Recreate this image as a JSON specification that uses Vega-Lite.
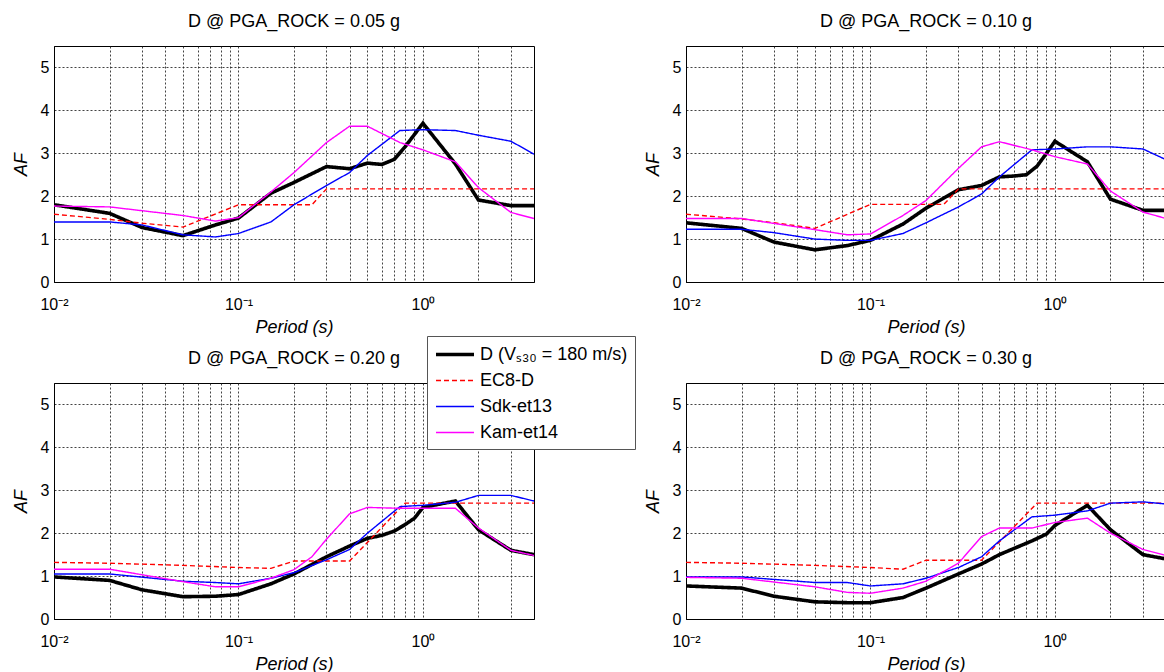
{
  "$schema": "https://vega.github.io/schema/vega-lite/v6.json",
  "background": "white",
  "padding": {"left": 11, "top": 12, "right": 0, "bottom": 0},
  "datasets": {
    "af": [
      {"panel": "0.05", "series": "D", "T": 0.01, "AF": 1.80},
      {"panel": "0.05", "series": "D", "T": 0.02, "AF": 1.60},
      {"panel": "0.05", "series": "D", "T": 0.03, "AF": 1.27},
      {"panel": "0.05", "series": "D", "T": 0.05, "AF": 1.08},
      {"panel": "0.05", "series": "D", "T": 0.075, "AF": 1.33},
      {"panel": "0.05", "series": "D", "T": 0.1, "AF": 1.49},
      {"panel": "0.05", "series": "D", "T": 0.15, "AF": 2.07},
      {"panel": "0.05", "series": "D", "T": 0.2, "AF": 2.32},
      {"panel": "0.05", "series": "D", "T": 0.3, "AF": 2.69},
      {"panel": "0.05", "series": "D", "T": 0.4, "AF": 2.64},
      {"panel": "0.05", "series": "D", "T": 0.5, "AF": 2.77},
      {"panel": "0.05", "series": "D", "T": 0.6, "AF": 2.74},
      {"panel": "0.05", "series": "D", "T": 0.7, "AF": 2.86},
      {"panel": "0.05", "series": "D", "T": 0.8, "AF": 3.15},
      {"panel": "0.05", "series": "D", "T": 1.0, "AF": 3.70},
      {"panel": "0.05", "series": "D", "T": 1.5, "AF": 2.75},
      {"panel": "0.05", "series": "D", "T": 2.0, "AF": 1.91},
      {"panel": "0.05", "series": "D", "T": 3.0, "AF": 1.78},
      {"panel": "0.05", "series": "D", "T": 4.0, "AF": 1.78},
      {"panel": "0.05", "series": "EC8-D", "T": 0.01, "AF": 1.58},
      {"panel": "0.05", "series": "EC8-D", "T": 0.02, "AF": 1.46},
      {"panel": "0.05", "series": "EC8-D", "T": 0.03, "AF": 1.37},
      {"panel": "0.05", "series": "EC8-D", "T": 0.05, "AF": 1.28},
      {"panel": "0.05", "series": "EC8-D", "T": 0.1, "AF": 1.80},
      {"panel": "0.05", "series": "EC8-D", "T": 0.25, "AF": 1.80},
      {"panel": "0.05", "series": "EC8-D", "T": 0.3, "AF": 2.17},
      {"panel": "0.05", "series": "EC8-D", "T": 4.0, "AF": 2.17},
      {"panel": "0.05", "series": "Sdk-et13", "T": 0.01, "AF": 1.40},
      {"panel": "0.05", "series": "Sdk-et13", "T": 0.02, "AF": 1.40},
      {"panel": "0.05", "series": "Sdk-et13", "T": 0.03, "AF": 1.33},
      {"panel": "0.05", "series": "Sdk-et13", "T": 0.05, "AF": 1.10},
      {"panel": "0.05", "series": "Sdk-et13", "T": 0.075, "AF": 1.05},
      {"panel": "0.05", "series": "Sdk-et13", "T": 0.1, "AF": 1.13},
      {"panel": "0.05", "series": "Sdk-et13", "T": 0.15, "AF": 1.40},
      {"panel": "0.05", "series": "Sdk-et13", "T": 0.2, "AF": 1.80},
      {"panel": "0.05", "series": "Sdk-et13", "T": 0.3, "AF": 2.25},
      {"panel": "0.05", "series": "Sdk-et13", "T": 0.4, "AF": 2.55},
      {"panel": "0.05", "series": "Sdk-et13", "T": 0.5, "AF": 2.95},
      {"panel": "0.05", "series": "Sdk-et13", "T": 0.75, "AF": 3.53},
      {"panel": "0.05", "series": "Sdk-et13", "T": 1.0, "AF": 3.55},
      {"panel": "0.05", "series": "Sdk-et13", "T": 1.5, "AF": 3.53},
      {"panel": "0.05", "series": "Sdk-et13", "T": 2.0, "AF": 3.42},
      {"panel": "0.05", "series": "Sdk-et13", "T": 3.0, "AF": 3.28},
      {"panel": "0.05", "series": "Sdk-et13", "T": 4.0, "AF": 2.98},
      {"panel": "0.05", "series": "Kam-et14", "T": 0.01, "AF": 1.77},
      {"panel": "0.05", "series": "Kam-et14", "T": 0.02, "AF": 1.75},
      {"panel": "0.05", "series": "Kam-et14", "T": 0.05, "AF": 1.55},
      {"panel": "0.05", "series": "Kam-et14", "T": 0.075, "AF": 1.42},
      {"panel": "0.05", "series": "Kam-et14", "T": 0.1, "AF": 1.50},
      {"panel": "0.05", "series": "Kam-et14", "T": 0.15, "AF": 2.10},
      {"panel": "0.05", "series": "Kam-et14", "T": 0.2, "AF": 2.55},
      {"panel": "0.05", "series": "Kam-et14", "T": 0.3, "AF": 3.25},
      {"panel": "0.05", "series": "Kam-et14", "T": 0.4, "AF": 3.63},
      {"panel": "0.05", "series": "Kam-et14", "T": 0.5, "AF": 3.63},
      {"panel": "0.05", "series": "Kam-et14", "T": 0.75, "AF": 3.25},
      {"panel": "0.05", "series": "Kam-et14", "T": 1.0, "AF": 3.08},
      {"panel": "0.05", "series": "Kam-et14", "T": 1.5, "AF": 2.80},
      {"panel": "0.05", "series": "Kam-et14", "T": 2.0, "AF": 2.20},
      {"panel": "0.05", "series": "Kam-et14", "T": 3.0, "AF": 1.62},
      {"panel": "0.05", "series": "Kam-et14", "T": 4.0, "AF": 1.48},

      {"panel": "0.10", "series": "D", "T": 0.01, "AF": 1.38},
      {"panel": "0.10", "series": "D", "T": 0.02, "AF": 1.25},
      {"panel": "0.10", "series": "D", "T": 0.03, "AF": 0.93},
      {"panel": "0.10", "series": "D", "T": 0.05, "AF": 0.75},
      {"panel": "0.10", "series": "D", "T": 0.075, "AF": 0.85},
      {"panel": "0.10", "series": "D", "T": 0.1, "AF": 0.97},
      {"panel": "0.10", "series": "D", "T": 0.15, "AF": 1.35},
      {"panel": "0.10", "series": "D", "T": 0.2, "AF": 1.72},
      {"panel": "0.10", "series": "D", "T": 0.3, "AF": 2.15},
      {"panel": "0.10", "series": "D", "T": 0.4, "AF": 2.25},
      {"panel": "0.10", "series": "D", "T": 0.5, "AF": 2.45},
      {"panel": "0.10", "series": "D", "T": 0.6, "AF": 2.47},
      {"panel": "0.10", "series": "D", "T": 0.7, "AF": 2.50},
      {"panel": "0.10", "series": "D", "T": 0.8, "AF": 2.70},
      {"panel": "0.10", "series": "D", "T": 0.9, "AF": 3.00},
      {"panel": "0.10", "series": "D", "T": 1.0, "AF": 3.28},
      {"panel": "0.10", "series": "D", "T": 1.5, "AF": 2.80},
      {"panel": "0.10", "series": "D", "T": 2.0, "AF": 1.93},
      {"panel": "0.10", "series": "D", "T": 3.0, "AF": 1.67},
      {"panel": "0.10", "series": "D", "T": 4.0, "AF": 1.67},
      {"panel": "0.10", "series": "EC8-D", "T": 0.01, "AF": 1.58},
      {"panel": "0.10", "series": "EC8-D", "T": 0.02, "AF": 1.47},
      {"panel": "0.10", "series": "EC8-D", "T": 0.03, "AF": 1.38},
      {"panel": "0.10", "series": "EC8-D", "T": 0.05, "AF": 1.25},
      {"panel": "0.10", "series": "EC8-D", "T": 0.1, "AF": 1.81},
      {"panel": "0.10", "series": "EC8-D", "T": 0.25, "AF": 1.81},
      {"panel": "0.10", "series": "EC8-D", "T": 0.3, "AF": 2.17},
      {"panel": "0.10", "series": "EC8-D", "T": 4.0, "AF": 2.17},
      {"panel": "0.10", "series": "Sdk-et13", "T": 0.01, "AF": 1.23},
      {"panel": "0.10", "series": "Sdk-et13", "T": 0.02, "AF": 1.23},
      {"panel": "0.10", "series": "Sdk-et13", "T": 0.03, "AF": 1.15},
      {"panel": "0.10", "series": "Sdk-et13", "T": 0.05, "AF": 1.00},
      {"panel": "0.10", "series": "Sdk-et13", "T": 0.075, "AF": 0.97},
      {"panel": "0.10", "series": "Sdk-et13", "T": 0.1, "AF": 0.97},
      {"panel": "0.10", "series": "Sdk-et13", "T": 0.15, "AF": 1.13},
      {"panel": "0.10", "series": "Sdk-et13", "T": 0.2, "AF": 1.38},
      {"panel": "0.10", "series": "Sdk-et13", "T": 0.3, "AF": 1.75},
      {"panel": "0.10", "series": "Sdk-et13", "T": 0.4, "AF": 2.05},
      {"panel": "0.10", "series": "Sdk-et13", "T": 0.5, "AF": 2.45},
      {"panel": "0.10", "series": "Sdk-et13", "T": 0.75, "AF": 3.08},
      {"panel": "0.10", "series": "Sdk-et13", "T": 1.0, "AF": 3.10},
      {"panel": "0.10", "series": "Sdk-et13", "T": 1.5, "AF": 3.15},
      {"panel": "0.10", "series": "Sdk-et13", "T": 2.0, "AF": 3.15},
      {"panel": "0.10", "series": "Sdk-et13", "T": 3.0, "AF": 3.10},
      {"panel": "0.10", "series": "Sdk-et13", "T": 4.0, "AF": 2.85},
      {"panel": "0.10", "series": "Kam-et14", "T": 0.01, "AF": 1.48},
      {"panel": "0.10", "series": "Kam-et14", "T": 0.02, "AF": 1.48},
      {"panel": "0.10", "series": "Kam-et14", "T": 0.05, "AF": 1.22},
      {"panel": "0.10", "series": "Kam-et14", "T": 0.075, "AF": 1.10},
      {"panel": "0.10", "series": "Kam-et14", "T": 0.1, "AF": 1.12},
      {"panel": "0.10", "series": "Kam-et14", "T": 0.15, "AF": 1.55},
      {"panel": "0.10", "series": "Kam-et14", "T": 0.2, "AF": 1.90},
      {"panel": "0.10", "series": "Kam-et14", "T": 0.3, "AF": 2.65},
      {"panel": "0.10", "series": "Kam-et14", "T": 0.4, "AF": 3.15},
      {"panel": "0.10", "series": "Kam-et14", "T": 0.5, "AF": 3.27},
      {"panel": "0.10", "series": "Kam-et14", "T": 0.75, "AF": 3.08},
      {"panel": "0.10", "series": "Kam-et14", "T": 1.0, "AF": 2.92},
      {"panel": "0.10", "series": "Kam-et14", "T": 1.5, "AF": 2.75},
      {"panel": "0.10", "series": "Kam-et14", "T": 2.0, "AF": 2.12},
      {"panel": "0.10", "series": "Kam-et14", "T": 3.0, "AF": 1.63},
      {"panel": "0.10", "series": "Kam-et14", "T": 4.0, "AF": 1.48},

      {"panel": "0.20", "series": "D", "T": 0.01, "AF": 0.98},
      {"panel": "0.20", "series": "D", "T": 0.02, "AF": 0.90},
      {"panel": "0.20", "series": "D", "T": 0.03, "AF": 0.68},
      {"panel": "0.20", "series": "D", "T": 0.05, "AF": 0.52},
      {"panel": "0.20", "series": "D", "T": 0.075, "AF": 0.53},
      {"panel": "0.20", "series": "D", "T": 0.1, "AF": 0.57},
      {"panel": "0.20", "series": "D", "T": 0.15, "AF": 0.82},
      {"panel": "0.20", "series": "D", "T": 0.2, "AF": 1.05},
      {"panel": "0.20", "series": "D", "T": 0.3, "AF": 1.45},
      {"panel": "0.20", "series": "D", "T": 0.4, "AF": 1.70},
      {"panel": "0.20", "series": "D", "T": 0.5, "AF": 1.88},
      {"panel": "0.20", "series": "D", "T": 0.6, "AF": 1.95},
      {"panel": "0.20", "series": "D", "T": 0.7, "AF": 2.05},
      {"panel": "0.20", "series": "D", "T": 0.8, "AF": 2.20},
      {"panel": "0.20", "series": "D", "T": 0.9, "AF": 2.35},
      {"panel": "0.20", "series": "D", "T": 1.0, "AF": 2.60},
      {"panel": "0.20", "series": "D", "T": 1.5, "AF": 2.75},
      {"panel": "0.20", "series": "D", "T": 2.0, "AF": 2.08},
      {"panel": "0.20", "series": "D", "T": 3.0, "AF": 1.60},
      {"panel": "0.20", "series": "D", "T": 4.0, "AF": 1.50},
      {"panel": "0.20", "series": "EC8-D", "T": 0.01, "AF": 1.32},
      {"panel": "0.20", "series": "EC8-D", "T": 0.02, "AF": 1.30},
      {"panel": "0.20", "series": "EC8-D", "T": 0.05, "AF": 1.25},
      {"panel": "0.20", "series": "EC8-D", "T": 0.1, "AF": 1.20},
      {"panel": "0.20", "series": "EC8-D", "T": 0.15, "AF": 1.18},
      {"panel": "0.20", "series": "EC8-D", "T": 0.2, "AF": 1.35},
      {"panel": "0.20", "series": "EC8-D", "T": 0.4, "AF": 1.35},
      {"panel": "0.20", "series": "EC8-D", "T": 0.8, "AF": 2.70},
      {"panel": "0.20", "series": "EC8-D", "T": 4.0, "AF": 2.70},
      {"panel": "0.20", "series": "Sdk-et13", "T": 0.01, "AF": 1.05},
      {"panel": "0.20", "series": "Sdk-et13", "T": 0.02, "AF": 1.05},
      {"panel": "0.20", "series": "Sdk-et13", "T": 0.05, "AF": 0.88},
      {"panel": "0.20", "series": "Sdk-et13", "T": 0.075, "AF": 0.85},
      {"panel": "0.20", "series": "Sdk-et13", "T": 0.1, "AF": 0.82},
      {"panel": "0.20", "series": "Sdk-et13", "T": 0.15, "AF": 0.95},
      {"panel": "0.20", "series": "Sdk-et13", "T": 0.2, "AF": 1.08},
      {"panel": "0.20", "series": "Sdk-et13", "T": 0.3, "AF": 1.38},
      {"panel": "0.20", "series": "Sdk-et13", "T": 0.4, "AF": 1.62},
      {"panel": "0.20", "series": "Sdk-et13", "T": 0.5, "AF": 2.00},
      {"panel": "0.20", "series": "Sdk-et13", "T": 0.75, "AF": 2.62},
      {"panel": "0.20", "series": "Sdk-et13", "T": 1.0, "AF": 2.65},
      {"panel": "0.20", "series": "Sdk-et13", "T": 1.5, "AF": 2.72},
      {"panel": "0.20", "series": "Sdk-et13", "T": 2.0, "AF": 2.88},
      {"panel": "0.20", "series": "Sdk-et13", "T": 3.0, "AF": 2.88},
      {"panel": "0.20", "series": "Sdk-et13", "T": 4.0, "AF": 2.75},
      {"panel": "0.20", "series": "Kam-et14", "T": 0.01, "AF": 1.16},
      {"panel": "0.20", "series": "Kam-et14", "T": 0.02, "AF": 1.16},
      {"panel": "0.20", "series": "Kam-et14", "T": 0.05, "AF": 0.87},
      {"panel": "0.20", "series": "Kam-et14", "T": 0.075, "AF": 0.75},
      {"panel": "0.20", "series": "Kam-et14", "T": 0.1, "AF": 0.75},
      {"panel": "0.20", "series": "Kam-et14", "T": 0.15, "AF": 0.95},
      {"panel": "0.20", "series": "Kam-et14", "T": 0.2, "AF": 1.15},
      {"panel": "0.20", "series": "Kam-et14", "T": 0.25, "AF": 1.45},
      {"panel": "0.20", "series": "Kam-et14", "T": 0.3, "AF": 1.86},
      {"panel": "0.20", "series": "Kam-et14", "T": 0.4, "AF": 2.45},
      {"panel": "0.20", "series": "Kam-et14", "T": 0.5, "AF": 2.60},
      {"panel": "0.20", "series": "Kam-et14", "T": 0.75, "AF": 2.58},
      {"panel": "0.20", "series": "Kam-et14", "T": 1.0, "AF": 2.58},
      {"panel": "0.20", "series": "Kam-et14", "T": 1.5, "AF": 2.58},
      {"panel": "0.20", "series": "Kam-et14", "T": 2.0, "AF": 2.12},
      {"panel": "0.20", "series": "Kam-et14", "T": 3.0, "AF": 1.60},
      {"panel": "0.20", "series": "Kam-et14", "T": 4.0, "AF": 1.48},

      {"panel": "0.30", "series": "D", "T": 0.01, "AF": 0.77},
      {"panel": "0.30", "series": "D", "T": 0.02, "AF": 0.72},
      {"panel": "0.30", "series": "D", "T": 0.03, "AF": 0.53},
      {"panel": "0.30", "series": "D", "T": 0.05, "AF": 0.40},
      {"panel": "0.30", "series": "D", "T": 0.075, "AF": 0.38},
      {"panel": "0.30", "series": "D", "T": 0.1, "AF": 0.38},
      {"panel": "0.30", "series": "D", "T": 0.15, "AF": 0.50},
      {"panel": "0.30", "series": "D", "T": 0.2, "AF": 0.72},
      {"panel": "0.30", "series": "D", "T": 0.3, "AF": 1.05},
      {"panel": "0.30", "series": "D", "T": 0.4, "AF": 1.28},
      {"panel": "0.30", "series": "D", "T": 0.5, "AF": 1.50},
      {"panel": "0.30", "series": "D", "T": 0.75, "AF": 1.82},
      {"panel": "0.30", "series": "D", "T": 0.9, "AF": 1.98},
      {"panel": "0.30", "series": "D", "T": 1.0, "AF": 2.18},
      {"panel": "0.30", "series": "D", "T": 1.5, "AF": 2.65},
      {"panel": "0.30", "series": "D", "T": 2.0, "AF": 2.08},
      {"panel": "0.30", "series": "D", "T": 3.0, "AF": 1.50},
      {"panel": "0.30", "series": "D", "T": 4.0, "AF": 1.40},
      {"panel": "0.30", "series": "EC8-D", "T": 0.01, "AF": 1.32},
      {"panel": "0.30", "series": "EC8-D", "T": 0.02, "AF": 1.30},
      {"panel": "0.30", "series": "EC8-D", "T": 0.05, "AF": 1.25},
      {"panel": "0.30", "series": "EC8-D", "T": 0.1, "AF": 1.20},
      {"panel": "0.30", "series": "EC8-D", "T": 0.15, "AF": 1.16},
      {"panel": "0.30", "series": "EC8-D", "T": 0.2, "AF": 1.37},
      {"panel": "0.30", "series": "EC8-D", "T": 0.4, "AF": 1.37},
      {"panel": "0.30", "series": "EC8-D", "T": 0.8, "AF": 2.70},
      {"panel": "0.30", "series": "EC8-D", "T": 4.0, "AF": 2.70},
      {"panel": "0.30", "series": "Sdk-et13", "T": 0.01, "AF": 0.98},
      {"panel": "0.30", "series": "Sdk-et13", "T": 0.02, "AF": 0.98},
      {"panel": "0.30", "series": "Sdk-et13", "T": 0.05, "AF": 0.85},
      {"panel": "0.30", "series": "Sdk-et13", "T": 0.075, "AF": 0.85},
      {"panel": "0.30", "series": "Sdk-et13", "T": 0.1, "AF": 0.77},
      {"panel": "0.30", "series": "Sdk-et13", "T": 0.15, "AF": 0.82},
      {"panel": "0.30", "series": "Sdk-et13", "T": 0.2, "AF": 0.95},
      {"panel": "0.30", "series": "Sdk-et13", "T": 0.3, "AF": 1.20},
      {"panel": "0.30", "series": "Sdk-et13", "T": 0.4, "AF": 1.45},
      {"panel": "0.30", "series": "Sdk-et13", "T": 0.5, "AF": 1.82},
      {"panel": "0.30", "series": "Sdk-et13", "T": 0.75, "AF": 2.38},
      {"panel": "0.30", "series": "Sdk-et13", "T": 1.0, "AF": 2.42},
      {"panel": "0.30", "series": "Sdk-et13", "T": 1.5, "AF": 2.52},
      {"panel": "0.30", "series": "Sdk-et13", "T": 2.0, "AF": 2.70},
      {"panel": "0.30", "series": "Sdk-et13", "T": 3.0, "AF": 2.73},
      {"panel": "0.30", "series": "Sdk-et13", "T": 4.0, "AF": 2.68},
      {"panel": "0.30", "series": "Kam-et14", "T": 0.01, "AF": 0.97},
      {"panel": "0.30", "series": "Kam-et14", "T": 0.02, "AF": 0.95},
      {"panel": "0.30", "series": "Kam-et14", "T": 0.05, "AF": 0.75},
      {"panel": "0.30", "series": "Kam-et14", "T": 0.075, "AF": 0.62},
      {"panel": "0.30", "series": "Kam-et14", "T": 0.1, "AF": 0.60},
      {"panel": "0.30", "series": "Kam-et14", "T": 0.15, "AF": 0.72},
      {"panel": "0.30", "series": "Kam-et14", "T": 0.2, "AF": 0.88},
      {"panel": "0.30", "series": "Kam-et14", "T": 0.3, "AF": 1.30},
      {"panel": "0.30", "series": "Kam-et14", "T": 0.4, "AF": 1.92},
      {"panel": "0.30", "series": "Kam-et14", "T": 0.5, "AF": 2.12},
      {"panel": "0.30", "series": "Kam-et14", "T": 0.75, "AF": 2.12},
      {"panel": "0.30", "series": "Kam-et14", "T": 1.0, "AF": 2.25},
      {"panel": "0.30", "series": "Kam-et14", "T": 1.5, "AF": 2.35},
      {"panel": "0.30", "series": "Kam-et14", "T": 2.0, "AF": 2.00},
      {"panel": "0.30", "series": "Kam-et14", "T": 3.0, "AF": 1.62},
      {"panel": "0.30", "series": "Kam-et14", "T": 4.0, "AF": 1.48}
    ]
  },
  "vconcat": [
    {
      "hconcat": [
        {
          "width": 480, "height": 236,
          "title": "D @ PGA_ROCK = 0.05 g",
          "data": {"name": "af"},
          "transform": [{"filter": "datum.panel == '0.05'"}],
          "mark": {"type": "line", "clip": true},
          "encoding": {
            "x": {"field": "T", "type": "quantitative", "title": "Period  (s)",
              "scale": {"type": "log", "domain": [0.01, 4], "nice": false},
              "axis": {"values": [0.01,0.02,0.03,0.04,0.05,0.06,0.07,0.08,0.09,0.1,0.2,0.3,0.4,0.5,0.6,0.7,0.8,0.9,1,2,3],
                "labelExpr": "abs(datum.value-0.01)<1e-6 ? '10⁻²' : abs(datum.value-0.1)<1e-6 ? '10⁻¹' : abs(datum.value-1)<1e-6 ? '10⁰' : ''"}},
            "y": {"field": "AF", "type": "quantitative", "title": "AF",
              "scale": {"domain": [0, 5.5], "nice": false},
              "axis": {"values": [0,1,2,3,4,5]}},
            "color": {"field": "series", "type": "nominal", "title": null,
              "scale": {"domain": ["D","EC8-D","Sdk-et13","Kam-et14"], "range": ["#000000","#ff0000","#0000ff","#ff00ff"]},
              "legend": {"labelExpr": "datum.label == 'D' ? 'D (Vₛ₃₀ = 180 m/s)' : datum.label"}},
            "strokeDash": {"field": "series", "type": "nominal", "title": null,
              "scale": {"domain": ["D","EC8-D","Sdk-et13","Kam-et14"], "range": [[1,0],[5,3],[1,0],[1,0]]},
              "legend": {"labelExpr": "datum.label == 'D' ? 'D (Vₛ₃₀ = 180 m/s)' : datum.label"}},
            "strokeWidth": {"field": "series", "type": "nominal", "title": null,
              "scale": {"type": "ordinal", "domain": ["D","EC8-D","Sdk-et13","Kam-et14"], "range": [3.6,1.4,1.4,1.4]},
              "legend": {"labelExpr": "datum.label == 'D' ? 'D (Vₛ₃₀ = 180 m/s)' : datum.label"}}
          }
        },
        {
          "width": 480, "height": 236,
          "title": "D @ PGA_ROCK = 0.10 g",
          "data": {"name": "af"},
          "transform": [{"filter": "datum.panel == '0.10'"}],
          "mark": {"type": "line", "clip": true},
          "encoding": {
            "x": {"field": "T", "type": "quantitative", "title": "Period  (s)",
              "scale": {"type": "log", "domain": [0.01, 4], "nice": false},
              "axis": {"values": [0.01,0.02,0.03,0.04,0.05,0.06,0.07,0.08,0.09,0.1,0.2,0.3,0.4,0.5,0.6,0.7,0.8,0.9,1,2,3],
                "labelExpr": "abs(datum.value-0.01)<1e-6 ? '10⁻²' : abs(datum.value-0.1)<1e-6 ? '10⁻¹' : abs(datum.value-1)<1e-6 ? '10⁰' : ''"}},
            "y": {"field": "AF", "type": "quantitative", "title": "AF",
              "scale": {"domain": [0, 5.5], "nice": false},
              "axis": {"values": [0,1,2,3,4,5]}},
            "color": {"field": "series", "type": "nominal", "title": null,
              "scale": {"domain": ["D","EC8-D","Sdk-et13","Kam-et14"], "range": ["#000000","#ff0000","#0000ff","#ff00ff"]}},
            "strokeDash": {"field": "series", "type": "nominal", "title": null,
              "scale": {"domain": ["D","EC8-D","Sdk-et13","Kam-et14"], "range": [[1,0],[5,3],[1,0],[1,0]]}},
            "strokeWidth": {"field": "series", "type": "nominal", "title": null,
              "scale": {"type": "ordinal", "domain": ["D","EC8-D","Sdk-et13","Kam-et14"], "range": [3.6,1.4,1.4,1.4]}}
          }
        }
      ]
    },
    {
      "hconcat": [
        {
          "width": 480, "height": 236,
          "title": "D @ PGA_ROCK = 0.20 g",
          "data": {"name": "af"},
          "transform": [{"filter": "datum.panel == '0.20'"}],
          "mark": {"type": "line", "clip": true},
          "encoding": {
            "x": {"field": "T", "type": "quantitative", "title": "Period  (s)",
              "scale": {"type": "log", "domain": [0.01, 4], "nice": false},
              "axis": {"values": [0.01,0.02,0.03,0.04,0.05,0.06,0.07,0.08,0.09,0.1,0.2,0.3,0.4,0.5,0.6,0.7,0.8,0.9,1,2,3],
                "labelExpr": "abs(datum.value-0.01)<1e-6 ? '10⁻²' : abs(datum.value-0.1)<1e-6 ? '10⁻¹' : abs(datum.value-1)<1e-6 ? '10⁰' : ''"}},
            "y": {"field": "AF", "type": "quantitative", "title": "AF",
              "scale": {"domain": [0, 5.5], "nice": false},
              "axis": {"values": [0,1,2,3,4,5]}},
            "color": {"field": "series", "type": "nominal", "title": null,
              "scale": {"domain": ["D","EC8-D","Sdk-et13","Kam-et14"], "range": ["#000000","#ff0000","#0000ff","#ff00ff"]}},
            "strokeDash": {"field": "series", "type": "nominal", "title": null,
              "scale": {"domain": ["D","EC8-D","Sdk-et13","Kam-et14"], "range": [[1,0],[5,3],[1,0],[1,0]]}},
            "strokeWidth": {"field": "series", "type": "nominal", "title": null,
              "scale": {"type": "ordinal", "domain": ["D","EC8-D","Sdk-et13","Kam-et14"], "range": [3.6,1.4,1.4,1.4]}}
          }
        },
        {
          "width": 480, "height": 236,
          "title": "D @ PGA_ROCK = 0.30 g",
          "data": {"name": "af"},
          "transform": [{"filter": "datum.panel == '0.30'"}],
          "mark": {"type": "line", "clip": true},
          "encoding": {
            "x": {"field": "T", "type": "quantitative", "title": "Period  (s)",
              "scale": {"type": "log", "domain": [0.01, 4], "nice": false},
              "axis": {"values": [0.01,0.02,0.03,0.04,0.05,0.06,0.07,0.08,0.09,0.1,0.2,0.3,0.4,0.5,0.6,0.7,0.8,0.9,1,2,3],
                "labelExpr": "abs(datum.value-0.01)<1e-6 ? '10⁻²' : abs(datum.value-0.1)<1e-6 ? '10⁻¹' : abs(datum.value-1)<1e-6 ? '10⁰' : ''"}},
            "y": {"field": "AF", "type": "quantitative", "title": "AF",
              "scale": {"domain": [0, 5.5], "nice": false},
              "axis": {"values": [0,1,2,3,4,5]}},
            "color": {"field": "series", "type": "nominal", "title": null,
              "scale": {"domain": ["D","EC8-D","Sdk-et13","Kam-et14"], "range": ["#000000","#ff0000","#0000ff","#ff00ff"]}},
            "strokeDash": {"field": "series", "type": "nominal", "title": null,
              "scale": {"domain": ["D","EC8-D","Sdk-et13","Kam-et14"], "range": [[1,0],[5,3],[1,0],[1,0]]}},
            "strokeWidth": {"field": "series", "type": "nominal", "title": null,
              "scale": {"type": "ordinal", "domain": ["D","EC8-D","Sdk-et13","Kam-et14"], "range": [3.6,1.4,1.4,1.4]}}
          }
        }
      ]
    }
  ],
  "spacing": 12,
  "config": {
    "font": "Liberation Sans",
    "concat": {"spacing": 108},
    "view": {"stroke": "#000000", "strokeWidth": 1},
    "title": {"fontSize": 18, "fontWeight": "normal", "color": "#000000", "offset": 15, "font": "Liberation Sans"},
    "axis": {
      "grid": true, "gridColor": "#222222", "gridDash": [2, 2], "gridOpacity": 0.85, "gridWidth": 1,
      "domainColor": "#000000", "ticks": false,
      "labelColor": "#000000", "labelFontSize": 16, "labelOverlap": false, "labelFlush": false, "labelPadding": 14,
      "titleColor": "#000000", "titleFontSize": 18, "titleFontWeight": "normal", "titleFontStyle": "italic", "titlePadding": 6
    },
    "axisY": {"labelPadding": 5, "titlePadding": 10},
    "legend": {
      "orient": "none", "legendX": 373, "legendY": 290,
      "symbolType": "M-1,0H3", "symbolSize": 361, "labelOffset": 23,
      "labelFontSize": 18, "labelColor": "#000000", "labelFont": "Liberation Sans",
      "fillColor": "#ffffff", "strokeColor": "#555555", "padding": 7, "rowPadding": 6
    }
  }
}
